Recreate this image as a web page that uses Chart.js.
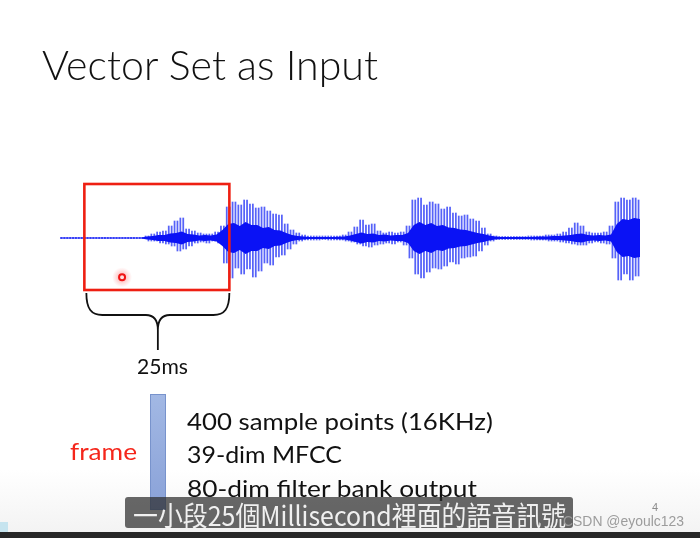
<!DOCTYPE html>
<html>
<head>
<meta charset="utf-8">
<script src="https://cdn.jsdelivr.net/npm/chart.js@4.4.1/dist/chart.umd.min.js"></script>
<style>
  html, body { margin: 0; padding: 0; }
  body { width: 700px; height: 538px; position: relative; overflow: hidden; background: #fff; }
  #bg-fade { position: absolute; left: 0; top: 470px; width: 700px; height: 62px;
    background: linear-gradient(#ffffff, #f3f3f3); }
  #wave { position: absolute; left: 0; top: 0; z-index: 1; }
  .txt { position: absolute; white-space: nowrap; line-height: 1; transform-origin: 0 0; z-index: 2; }
  .slide { font-family: Lato, "Open Sans", sans-serif; color: #111; }
  #title { left: 42px; top: 43px; font-size: 42px; font-weight: 300; }
  #frame-word { left: 70px; top: 439px; font-size: 24px; color: #f5261b; }
  #ms-label { left: 137px; top: 355px; font-size: 22px; }
  .item { left: 187px; font-size: 24px; }
  #frame-bar { position: absolute; left: 150px; top: 394px; width: 16px; height: 116px; z-index: 2;
    background: linear-gradient(#a2b8e4, #8aa2d8); border: 1px solid #7893cc; box-sizing: border-box; }
  #sub-box { position: absolute; left: 125px; top: 497px; width: 448px; height: 31px; z-index: 3;
    background: rgba(45,45,45,0.72); border-radius: 3px; }
  #subtitle { left: 133px; top: 501px; font-size: 27px; color: #f0f0f0; z-index: 4;
    font-family: "Noto Sans CJK TC", "Noto Sans CJK SC", sans-serif; }
  #page-no { left: 652px; top: 502px; font-size: 11px; color: #8c8c8c; font-family: "Liberation Sans", sans-serif; }
  #watermark { left: 563px; top: 514px; font-size: 14px; color: #9c9c9c; z-index: 5; font-family: "Liberation Sans", sans-serif; }
  #bottom-bar { position: absolute; left: 0; top: 532px; width: 700px; height: 6px; background: #272727; z-index: 6; }
  #corner-patch { position: absolute; left: 0; top: 522px; width: 8px; height: 10px; background: #c6e4ef; z-index: 2; }
</style>
</head>
<body>
<div id="bg-fade"></div>
<canvas id="wave" width="700" height="538"></canvas>

<div class="txt slide" id="title" data-w="336">Vector Set as Input</div>
<div class="txt slide" id="ms-label" data-w="51">25ms</div>
<div class="txt slide" id="frame-word" data-w="67">frame</div>
<div id="frame-bar"></div>
<div class="txt slide item" style="top:409px" data-w="306">400 sample points (16KHz)</div>
<div class="txt slide item" style="top:442px" data-w="155">39-dim MFCC</div>
<div class="txt slide item" style="top:476px" data-w="290">80-dim filter bank output</div>
<div id="corner-patch"></div>
<div id="sub-box"></div>
<div class="txt" id="subtitle" data-w="433">一小段25個Millisecond裡面的語音訊號</div>
<div class="txt" id="page-no">4</div>
<div class="txt" id="watermark" data-w="121">CSDN @eyoulc123</div>
<div id="bottom-bar"></div>

<script>
// waveform: time in ms, amplitude in arbitrary units (+-50)
// successive peak / trough of the signal, every 0.5 ms
const spikeStepMs = 0.5;
const spikeValues = [
  0.6, -0.6, 0.6, -0.6, 0.6, -0.6, 0.6, -0.6, 0.6, -0.6,
  0.6, -0.6, 0.6, -0.6, 0.6, -0.6, 0.6, -0.6, 0.6, -0.6,
  0.6, -0.6, 0.6, -0.6, 0.6, -0.6, 0.6, -0.6, 0.6, -0.6,
  2, -3, 4, -3, 6, -5, 7, -6, 12, -8,
  17, -13, 20, -11, 9, -8, 7, -5, 5, -4,
  4, -5, 4, -3, 6, -5, 12, -25, 31, -40,
  36, -30, 33, -36, 38, -31, 34, -39, 30, -33,
  31, -25, 27, -27, 24, -19, 23, -17, 14, -11,
  8, -6, 5, -3, 3, -2, 2, -2, 2, -2,
  2, -1.5, 2, -2, 2, -2, 2, -2, 3, -3,
  6, -4, 11, -6, 18, -8, 13, -9, 14, -7,
  7, -6, 5, -5, 6, -6, 5, -4, 6, -7,
  12, -20, 38, -36, 40, -40, 33, -34, 36, -30,
  34, -31, 29, -28, 31, -24, 25, -26, 22, -20,
  23, -19, 19, -18, 17, -13, 10, -7, 4, -3,
  2, -1.5, 1.5, -1.5, 1.5, -1.5, 1.5, -1.5, 1.5, -1.5,
  1.5, -1.5, 2, -2, 2, -2, 2, -2, 3, -3,
  3, -3, 4, -4, 6, -5, 10, -6, 15, -7,
  12, -7, 6, -5, 5, -4, 5, -5, 6, -6,
  12, -20, 36, -42, 40, -36, 38, -42, 40, -38,
  38
];

// solid inner band of the waveform, one value per ms
const coreStepMs = 1;
const coreValues = [
  0.5, 0.5, 0.5, 0.5, 0.5, 0.5, 0.5, 0.5, 0.5, 0.5,
  0.5, 0.5, 0.5, 0.5, 0.5, 1.5, 2, 3, 3, 4.5,
  5, 6.5, 4, 3.5, 2.5, 3, 2.5, 3.5, 8, 14,
  15, 12, 16, 13, 13, 10, 11, 8, 7.5, 5,
  3, 2, 1.5, 1, 1, 1, 1, 1, 1.2, 1.5,
  2.5, 4, 5.5, 4, 4.5, 3, 3.5, 2.5, 3, 3,
  5, 13, 16, 13, 15, 12, 13, 10.5, 10, 8.5,
  8, 6.5, 5, 4, 2.5, 1.5, 1, 1, 1, 1,
  1, 1, 1.2, 1.5, 1.5, 2, 2, 2.5, 3, 4,
  4.5, 3, 2.5, 3, 2.5, 3.5, 14, 19, 18, 20,
  19
];

// the 25 ms window and the laser pointer spot
const frameWindowMs = [4.2, 29.2];
const frameWindowAmp = [54, -52];
const pointerSpot = { x: 10.7, y: -39.3 };

const spikeBlue = 'rgba(30, 45, 245, 0.75)';
const coreBlue = '#0a12f5';
const slideRed = '#ee1f12';

// each vertical stroke runs from one peak to the next trough
const spikeBars = spikeValues.slice(0, -1).map((v, i) => ({
  x: (i + 0.5) * spikeStepMs,
  y: [Math.min(v, spikeValues[i + 1]), Math.max(v, spikeValues[i + 1])]
}));
const coreTop = coreValues.map((v, i) => ({ x: i * coreStepMs, y: v }));
const coreBottom = coreValues.map((v, i) => ({ x: i * coreStepMs, y: -v }));

const overlayPlugin = {
  id: 'slideOverlay',
  afterDatasetsDraw(chart) {
    const ctx = chart.ctx;
    const xs = chart.scales.x;
    const ys = chart.scales.y;
    const left = xs.getPixelForValue(frameWindowMs[0]);
    const right = xs.getPixelForValue(frameWindowMs[1]);
    const top = ys.getPixelForValue(frameWindowAmp[0]);
    const bottom = ys.getPixelForValue(frameWindowAmp[1]);

    ctx.save();
    // red window
    ctx.strokeStyle = slideRed;
    ctx.lineWidth = 2.6;
    ctx.strokeRect(left, top, right - left, bottom - top);

    // curly brace under the window
    const L = left + 2, R = right, M = (L + R) / 2, T = bottom + 3;
    ctx.strokeStyle = '#111';
    ctx.lineWidth = 1.8;
    ctx.beginPath();
    ctx.moveTo(L, T);
    ctx.bezierCurveTo(L, T + 16, L + 5, T + 22, L + 16, T + 22);
    ctx.lineTo(M - 12, T + 22);
    ctx.bezierCurveTo(M - 4, T + 22, M, T + 27, M, T + 37);
    ctx.lineTo(M, T + 57);
    ctx.moveTo(M, T + 37);
    ctx.bezierCurveTo(M, T + 27, M + 4, T + 22, M + 12, T + 22);
    ctx.lineTo(R - 16, T + 22);
    ctx.bezierCurveTo(R - 5, T + 22, R, T + 16, R, T);
    ctx.stroke();

    // laser pointer
    const px = xs.getPixelForValue(pointerSpot.x);
    const py = ys.getPixelForValue(pointerSpot.y);
    const glow = ctx.createRadialGradient(px, py, 2, px, py, 10);
    glow.addColorStop(0, 'rgba(255,90,90,0.45)');
    glow.addColorStop(1, 'rgba(255,120,120,0)');
    ctx.fillStyle = glow;
    ctx.beginPath();
    ctx.arc(px, py, 10, 0, Math.PI * 2);
    ctx.fill();
    ctx.fillStyle = '#ffe0e0';
    ctx.strokeStyle = '#f01414';
    ctx.lineWidth = 2;
    ctx.beginPath();
    ctx.arc(px, py, 3, 0, Math.PI * 2);
    ctx.fill();
    ctx.stroke();
    ctx.restore();
  }
};

new Chart(document.getElementById('wave'), {
  data: {
    datasets: [
      { type: 'line', data: coreTop, borderWidth: 0, pointRadius: 0, fill: '+1', backgroundColor: coreBlue, order: 1 },
      { type: 'line', data: coreBottom, borderWidth: 0, pointRadius: 0, fill: false, order: 1 },
      { type: 'bar', data: spikeBars, backgroundColor: spikeBlue, barThickness: 1.1, borderWidth: 0, order: 2 }
    ]
  },
  options: {
    responsive: false,
    animation: false,
    events: [],
    layout: { padding: { left: 60, right: 60, top: 188, bottom: 250 } },
    plugins: { legend: { display: false }, tooltip: { enabled: false } },
    scales: {
      x: { type: 'linear', min: 0, max: 100, display: false, offset: false },
      y: { min: -50, max: 50, display: false }
    }
  },
  plugins: [overlayPlugin]
});

// squeeze each text run to the width it has on the slide
document.querySelectorAll('[data-w]').forEach(el => {
  const w = el.getBoundingClientRect().width;
  const target = Number(el.dataset.w);
  if (w > 0) el.style.transform = 'scaleX(' + (target / w).toFixed(3) + ')';
});
</script>
</body>
</html>
